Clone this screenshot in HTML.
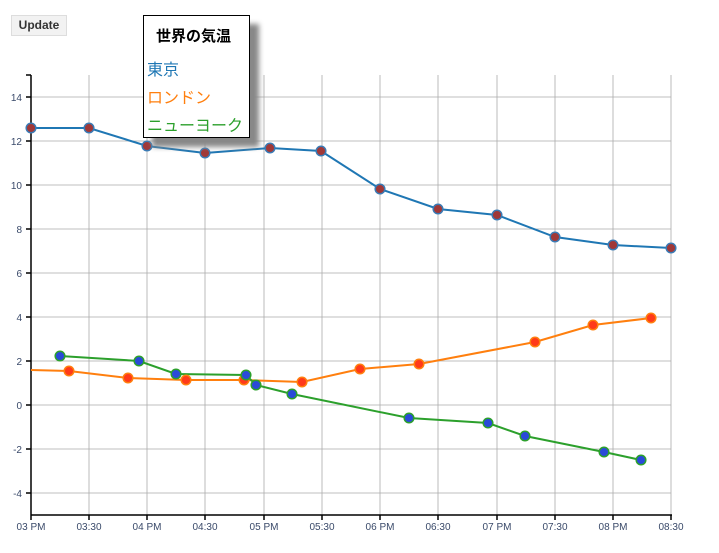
<!DOCTYPE html><html><head><meta charset="utf-8"><style>
body{margin:0;background:#fff;font-family:"Liberation Sans","Noto Sans CJK JP",sans-serif;}
.btn{position:absolute;left:11px;top:15px;width:54px;height:19px;background:#f2f2f2;border:1px solid #ddd;font-size:12px;color:#333;text-align:center;line-height:19px;font-weight:bold}
.leg{position:absolute;left:143px;top:15px;width:105px;height:121px;border:1px solid #000;background:#fff;box-shadow:9px 9px 5px #888;font-family:"Liberation Sans","Noto Sans CJK JP",sans-serif}
</style></head><body>
<div class="btn">Update</div>
<svg width="719" height="553" style="position:absolute;left:0;top:0" font-family="Liberation Sans, Noto Sans CJK JP, sans-serif">
<g stroke="#aaa" stroke-width="0.8">
<line x1="89" y1="75" x2="89" y2="515"/><line x1="147" y1="75" x2="147" y2="515"/><line x1="205" y1="75" x2="205" y2="515"/><line x1="264" y1="75" x2="264" y2="515"/><line x1="322" y1="75" x2="322" y2="515"/><line x1="380" y1="75" x2="380" y2="515"/><line x1="438" y1="75" x2="438" y2="515"/><line x1="497" y1="75" x2="497" y2="515"/><line x1="555" y1="75" x2="555" y2="515"/><line x1="613" y1="75" x2="613" y2="515"/><line x1="671" y1="75" x2="671" y2="515"/>
<line x1="31" y1="97" x2="671" y2="97"/><line x1="31" y1="141" x2="671" y2="141"/><line x1="31" y1="185" x2="671" y2="185"/><line x1="31" y1="229" x2="671" y2="229"/><line x1="31" y1="273" x2="671" y2="273"/><line x1="31" y1="317" x2="671" y2="317"/><line x1="31" y1="361" x2="671" y2="361"/><line x1="31" y1="405" x2="671" y2="405"/><line x1="31" y1="449" x2="671" y2="449"/><line x1="31" y1="493" x2="671" y2="493"/>
</g>
<g stroke="#000" stroke-width="1.5">
<line x1="31" y1="75" x2="31" y2="515"/><line x1="31" y1="515" x2="672" y2="515"/>
<line x1="26" y1="75" x2="31" y2="75"/>
<line x1="26" y1="97" x2="31" y2="97"/><line x1="26" y1="141" x2="31" y2="141"/><line x1="26" y1="185" x2="31" y2="185"/><line x1="26" y1="229" x2="31" y2="229"/><line x1="26" y1="273" x2="31" y2="273"/><line x1="26" y1="317" x2="31" y2="317"/><line x1="26" y1="361" x2="31" y2="361"/><line x1="26" y1="405" x2="31" y2="405"/><line x1="26" y1="449" x2="31" y2="449"/><line x1="26" y1="493" x2="31" y2="493"/>
<line x1="31" y1="515" x2="31" y2="520"/><line x1="89" y1="515" x2="89" y2="520"/><line x1="147" y1="515" x2="147" y2="520"/><line x1="205" y1="515" x2="205" y2="520"/><line x1="264" y1="515" x2="264" y2="520"/><line x1="322" y1="515" x2="322" y2="520"/><line x1="380" y1="515" x2="380" y2="520"/><line x1="438" y1="515" x2="438" y2="520"/><line x1="497" y1="515" x2="497" y2="520"/><line x1="555" y1="515" x2="555" y2="520"/><line x1="613" y1="515" x2="613" y2="520"/><line x1="671" y1="515" x2="671" y2="520"/>
</g>
<g font-size="10" fill="#3a4a6a" text-anchor="end">
<text x="22" y="101">14</text><text x="22" y="145">12</text><text x="22" y="189">10</text><text x="22" y="233">8</text><text x="22" y="277">6</text><text x="22" y="321">4</text><text x="22" y="365">2</text><text x="22" y="409">0</text><text x="22" y="453">-2</text><text x="22" y="497">-4</text>
</g>
<g font-size="10" fill="#3a4a6a" text-anchor="middle">
<text x="31" y="530">03 PM</text><text x="89" y="530">03:30</text><text x="147" y="530">04 PM</text><text x="205" y="530">04:30</text><text x="264" y="530">05 PM</text><text x="322" y="530">05:30</text><text x="380" y="530">06 PM</text><text x="438" y="530">06:30</text><text x="497" y="530">07 PM</text><text x="555" y="530">07:30</text><text x="613" y="530">08 PM</text><text x="671" y="530">08:30</text>
</g>
<polyline fill="none" stroke="#1f77b4" stroke-width="2" points="31,128 89,128 147,146 205,153 270,148 321,151 380,189 438,209 497,215 555,237 613,245 671,248"/>
<polyline fill="none" stroke="#ff7f0e" stroke-width="2" points="31,370 69,371 128,378 186,380 244,380 302,382 360,369 419,364 535,342 593,325 651,318"/>
<polyline fill="none" stroke="#2ca02c" stroke-width="2" points="60,356 139,361 176,374 246,375 256,385 292,394 409,418 488,423 525,436 604,452 641,460"/>
<g fill="#a03838" stroke="#3a7ab4" stroke-width="1.5">
<circle cx="31" cy="128" r="4.8"/><circle cx="89" cy="128" r="4.8"/><circle cx="147" cy="146" r="4.8"/><circle cx="205" cy="153" r="4.8"/><circle cx="270" cy="148" r="4.8"/><circle cx="321" cy="151" r="4.8"/><circle cx="380" cy="189" r="4.8"/><circle cx="438" cy="209" r="4.8"/><circle cx="497" cy="215" r="4.8"/><circle cx="555" cy="237" r="4.8"/><circle cx="613" cy="245" r="4.8"/><circle cx="671" cy="248" r="4.8"/>
</g>
<g fill="#ff3a1a" stroke="#ff7f0e" stroke-width="1.5">
<circle cx="69" cy="371" r="4.8"/><circle cx="128" cy="378" r="4.8"/><circle cx="186" cy="380" r="4.8"/><circle cx="244" cy="380" r="4.8"/><circle cx="302" cy="382" r="4.8"/><circle cx="360" cy="369" r="4.8"/><circle cx="419" cy="364" r="4.8"/><circle cx="535" cy="342" r="4.8"/><circle cx="593" cy="325" r="4.8"/><circle cx="651" cy="318" r="4.8"/>
</g>
<g fill="#2a4ad8" stroke="#2ca02c" stroke-width="1.5">
<circle cx="60" cy="356" r="4.8"/><circle cx="139" cy="361" r="4.8"/><circle cx="176" cy="374" r="4.8"/><circle cx="246" cy="375" r="4.8"/><circle cx="256" cy="385" r="4.8"/><circle cx="292" cy="394" r="4.8"/><circle cx="409" cy="418" r="4.8"/><circle cx="488" cy="423" r="4.8"/><circle cx="525" cy="436" r="4.8"/><circle cx="604" cy="452" r="4.8"/><circle cx="641" cy="460" r="4.8"/>
</g>
</svg>
<div class="leg">
<div style="position:absolute;left:12px;top:9px;font-size:15px;font-weight:bold;color:#000">世界の気温</div>
<div style="position:absolute;left:3px;top:40px;font-size:16px;color:#1f77b4">東京</div>
<div style="position:absolute;left:3px;top:68px;font-size:16px;color:#ff7f0e">ロンドン</div>
<div style="position:absolute;left:3px;top:96px;font-size:16px;color:#2ca02c">ニューヨーク</div>
</div>
</body></html>
